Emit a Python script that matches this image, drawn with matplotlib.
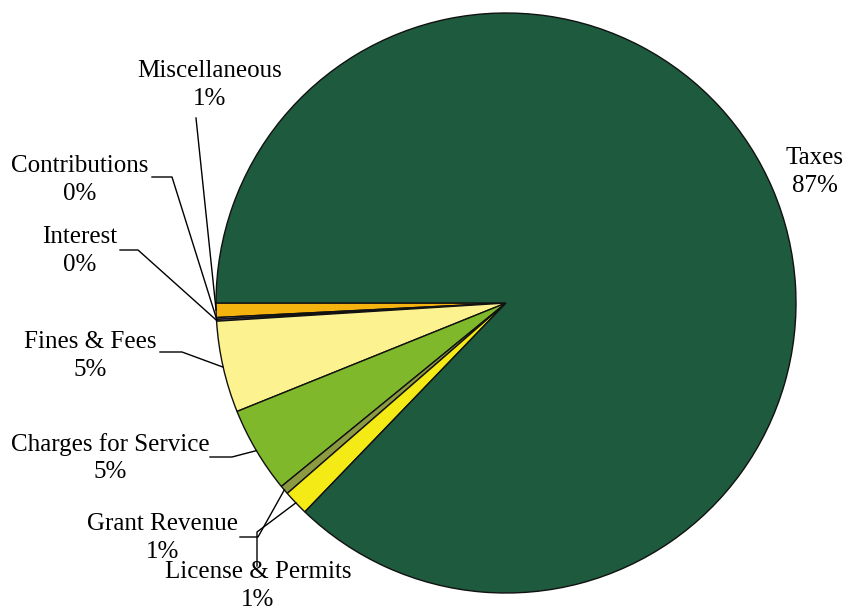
import matplotlib
matplotlib.use("Agg")
import matplotlib.pyplot as plt
import numpy as np

# slice data, counter-clockwise starting at 9 o'clock
categories = ["Miscellaneous", "Contributions", "Interest", "Fines & Fees",
              "Charges for Service", "Grant Revenue", "License & Permits", "Taxes"]
shares = [0.8, 0.1, 0.1, 5.1, 4.8, 0.5, 1.4, 87.2]
pct_labels = ["1%", "0%", "0%", "5%", "5%", "1%", "1%", "87%"]
colors = ["#F5B30F", "#9A9AD6", "#8080C4", "#FDF290", "#80B82B",
          "#8C9A42", "#F4EA16", "#1E5A3D"]

W, H = 845, 612
cx, cy, r = 506, 309, 290

# label text centre (x, y from top) and leader elbow, layout only
label_pos = {
    "Miscellaneous": ((210, 85), None),
    "Contributions": ((80, 180), [(152, 177), (172, 177)]),
    "Interest": ((80, 251), [(120, 250), (138, 250)]),
    "Fines & Fees": ((90, 356), [(160, 352), (182, 352)]),
    "Charges for Service": ((110, 458), [(210, 457), (232, 457)]),
    "Grant Revenue": ((163, 538), [(240, 537), (258, 537)]),
    "License & Permits": ((258, 586), [(257, 566), (257, 532)]),
    "Taxes": ((815, 172), None),
}

fig = plt.figure(figsize=(8.45, 6.12), dpi=100)
ax = fig.add_axes([0, 0, 1, 1])

wedges, _ = ax.pie(shares, colors=colors, startangle=180, counterclock=True,
                   center=(cx, cy), radius=r, frame=True,
                   wedgeprops=dict(edgecolor="#111111", linewidth=1.0))
ax.set_xlim(0, W)
ax.set_ylim(0, H)
ax.axis("off")

for w, name, pct in zip(wedges, categories, pct_labels):
    (tx, ty), elbow = label_pos[name]
    ax.text(tx, H - ty, f"{name}\n{pct}", ha="center", va="center",
            fontsize=18, family="Liberation Serif", linespacing=1.3)
    if name == "Taxes":
        continue
    mid = np.deg2rad((w.theta1 + w.theta2) / 2)
    ex, ey = cx + r * np.cos(mid), cy + r * np.sin(mid)
    if elbow is None:
        xs, ys = [196, ex], [H - 118, ey]
    else:
        xs = [p[0] for p in elbow] + [ex]
        ys = [H - p[1] for p in elbow] + [ey]
    ax.plot(xs, ys, color="black", linewidth=1.0)

fig.savefig("out.png", dpi=100)
